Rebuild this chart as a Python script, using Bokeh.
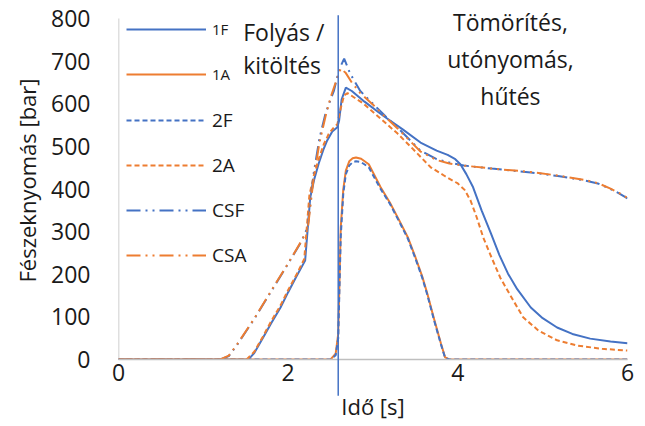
from bokeh.plotting import figure
from bokeh.models import Range1d, FixedTicker, Legend, LegendItem, Label
from bokeh.embed import file_html
from bokeh.resources import INLINE

# ---- data ----
t_1F = [0, 1.53, 1.6, 1.7, 1.8, 1.91, 2.0, 2.1, 2.2, 2.26, 2.31, 2.36, 2.42, 2.46, 2.52, 2.58,
        2.6, 2.63, 2.68, 2.75, 2.9, 3.12, 3.35, 3.56, 3.75, 3.88, 3.97, 4.03, 4.1, 4.18, 4.28,
        4.39, 4.49, 4.59, 4.7, 4.86, 5.0, 5.17, 5.35, 5.56, 5.8, 6.0]
p_1F = [0, 0, 15, 50, 85, 122, 158, 196, 232, 380, 425, 460, 495, 514, 535, 545,
        560, 610, 638, 630, 605, 572, 540, 509, 490, 480, 470, 458, 435, 404, 350,
        296, 245, 202, 165, 122, 97, 75, 60, 49, 42, 38]

t_1A = [0, 2.5, 2.56, 2.59, 2.62, 2.65, 2.68, 2.72, 2.76, 2.8, 2.86, 2.95, 3.09, 3.2, 3.3,
        3.41, 3.5, 3.58, 3.64, 3.72, 3.8, 3.85, 3.9, 6.0]
p_1A = [0, 0, 14, 60, 310, 400, 443, 465, 472, 474, 471, 458, 404, 368, 330,
        287, 240, 195, 155, 95, 38, 5, 0, 0]

t_2F = [0, 2.5, 2.56, 2.59, 2.62, 2.65, 2.68, 2.72, 2.76, 2.8, 2.86, 2.95, 3.09, 3.2, 3.3,
        3.41, 3.5, 3.58, 3.64, 3.72, 3.8, 3.85, 3.9, 6.0]
p_2F = [0, 0, 10, 50, 290, 390, 435, 455, 463, 465, 463, 451, 400, 365, 327,
        284, 237, 192, 152, 92, 36, 4, 0, 0]

t_2A = [0, 1.51, 1.6, 1.7, 1.8, 1.91, 2.0, 2.1, 2.19, 2.25, 2.3, 2.36, 2.42, 2.48, 2.54, 2.58,
        2.62, 2.66, 2.7, 2.8, 2.89, 3.05, 3.29, 3.5, 3.68, 3.85, 4.0, 4.08, 4.15, 4.22, 4.3,
        4.4, 4.5, 4.62, 4.77, 4.95, 5.17, 5.4, 5.7, 6.0]
p_2A = [0, 0, 18, 53, 90, 127, 163, 200, 236, 385, 430, 470, 505, 530, 545, 552,
        590, 620, 625, 612, 600, 572, 530, 488, 451, 430, 413, 398, 373, 335, 286,
        238, 192, 150, 99, 68, 45, 33, 25, 21]

t_CSF = [0, 1.2, 1.3, 1.4, 1.6, 1.8, 2.0, 2.15, 2.23, 2.3, 2.37, 2.44, 2.5, 2.54, 2.6,
         2.66, 2.73, 2.85, 3.0, 3.15, 3.29, 3.45, 3.56, 3.75, 3.9, 4.07, 4.4, 4.86, 5.2, 5.5,
         5.65, 5.8, 5.9, 6.0]
p_CSF = [0, 0, 8, 35, 95, 160, 225, 275, 310, 436, 520, 577, 610, 631, 680,
         706, 671, 630, 600, 570, 544, 512, 490, 470, 462, 455, 448, 439, 430, 420,
         413, 400, 390, 378]

t_CSA = [0, 1.2, 1.3, 1.4, 1.6, 1.8, 2.0, 2.15, 2.23, 2.3, 2.37, 2.44, 2.5, 2.56, 2.62,
         2.68, 2.75, 2.85, 3.0, 3.15, 3.29, 3.45, 3.56, 3.75, 3.9, 4.07, 4.4, 4.86, 5.2, 5.5,
         5.65, 5.8, 5.9, 6.0]
p_CSA = [0, 0, 9, 36, 96, 161, 226, 276, 305, 425, 510, 570, 615, 650, 683,
         672, 650, 625, 598, 568, 542, 510, 488, 468, 460, 455, 448, 440, 431, 421,
         414, 401, 391, 379]

fill_end = 2.59
x_ticks = [0, 2, 4, 6]
y_ticks = [0, 100, 200, 300, 400, 500, 600, 700, 800]

BLUE = "#4472C4"
ORANGE = "#ED7D31"
GRAY = "#BFBFBF"
TXT = "#1a1a1a"
FONT = "Open Sans"

p = figure(width=645, height=426, output_backend="svg", toolbar_location=None,
           x_range=Range1d(0, 6), y_range=Range1d(0, 840),
           min_border_left=118, min_border_right=18, min_border_top=1, min_border_bottom=67)
p.outline_line_color = None
p.xgrid.visible = False
p.ygrid.visible = False

p.xaxis.ticker = FixedTicker(ticks=x_ticks)
p.yaxis.ticker = FixedTicker(ticks=y_ticks)
for ax in (p.xaxis, p.yaxis):
    ax.axis_line_color = GRAY
    ax.axis_line_width = 1.5
    ax.major_tick_line_color = None
    ax.minor_tick_line_color = None
    ax.major_label_text_font = FONT
    ax.major_label_text_font_size = "23px"
    ax.major_label_text_color = TXT
    ax.axis_label_text_font = FONT
    ax.axis_label_text_font_size = "22px"
    ax.axis_label_text_font_style = "normal"
    ax.axis_label_text_color = TXT
p.yaxis.axis_line_color = None
p.xaxis.axis_label = "Idő [s]"
p.yaxis.axis_label = "Fészeknyomás [bar]"
p.xaxis.major_label_standoff = -2
p.xaxis.axis_label_standoff = 7
p.yaxis.major_label_standoff = 22
p.yaxis.axis_label_standoff = 6

# y-axis line only up to the last tick
p.segment(x0=[x_ticks[0]], y0=[y_ticks[0]], x1=[x_ticks[0]], y1=[y_ticks[-1]],
          line_color=GRAY, line_width=1.5)

r1F = p.line(t_1F, p_1F, line_color=BLUE, line_width=2)
r1A = p.line(t_1A, p_1A, line_color=ORANGE, line_width=2)
r2F = p.line(t_2F, p_2F, line_color=BLUE, line_width=2, line_dash="5 3")
r2A = p.line(t_2A, p_2A, line_color=ORANGE, line_width=2, line_dash="5 3")
rCSF = p.line(t_CSF, p_CSF, line_color=BLUE, line_width=2, line_dash="14 5 2 5 2 5")
rCSA = p.line(t_CSA, p_CSA, line_color=ORANGE, line_width=2, line_dash="14 5 2 5 2 5")

# vertical separator (end of filling), drawn unclipped
p.segment(x0=[fill_end], y0=[-85], x1=[fill_end], y1=[808], line_color=BLUE,
          line_width=1.5, level="overlay")

common = dict(margin=0, padding=3, spacing=19, glyph_width=80, glyph_height=26,
              label_height=26, label_standoff=6, label_text_font=FONT,
              label_text_color=TXT, border_line_color=None, background_fill_alpha=0)
leg1 = Legend(items=[LegendItem(label="1F", renderers=[r1F]),
                     LegendItem(label="1A", renderers=[r1A])],
              location=(8, 272), label_text_font_size="15px", **common)
leg2 = Legend(items=[LegendItem(label="2F", renderers=[r2F]),
                     LegendItem(label="2A", renderers=[r2A]),
                     LegendItem(label="CSF", renderers=[rCSF]),
                     LegendItem(label="CSA", renderers=[rCSA])],
              location=(8, 91), label_text_font_size="19px", **common)
p.add_layout(leg1)
p.add_layout(leg2)

for txt, x, y, al in [("Folyás /", 1.47, 769, "left"), ("kitöltés", 1.47, 692, "left"),
                      ("Tömörítés,", 4.62, 791, "center"), ("utónyomás,", 4.62, 705, "center"),
                      ("hűtés", 4.62, 618, "center")]:
    p.add_layout(Label(x=x, y=y, text=txt, text_align=al, text_baseline="middle",
                       text_font=FONT, text_font_size="23px", text_color=TXT))

open("out.html", "w").write(file_html(p, INLINE))
